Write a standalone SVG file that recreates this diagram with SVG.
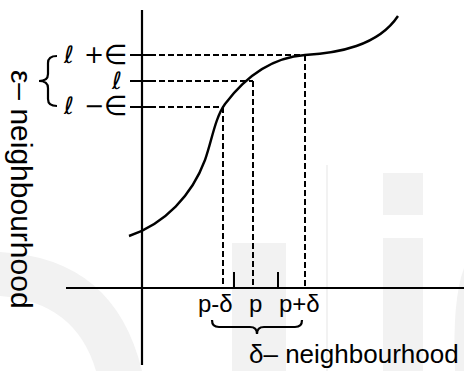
<svg xmlns="http://www.w3.org/2000/svg" width="464" height="371" viewBox="0 0 464 371">
<style>
.wm{fill:#f2f2f2;stroke:none}
.ax{stroke:#000;stroke-width:2.2;fill:none}
.tk{stroke:#000;stroke-width:2;fill:none}
.ds{stroke:#000;stroke-width:2;fill:none;stroke-dasharray:6 3}
.cv{stroke:#000;stroke-width:2.4;fill:none}
.br{stroke:#000;stroke-width:2.2;fill:none}
.lb{font-family:"Liberation Sans",Arial,sans-serif;fill:#000}
.mt{font-family:"DejaVu Sans",sans-serif;fill:#000;font-size:24px}
.el{font-size:27px}
</style>
<rect width="464" height="371" fill="#fff"/>
<g id="watermark">
<path class="wm" d="M0,252 Q115,258 142,371 L96,371 Q76,302 0,296 Z"/>
<rect class="wm" x="232" y="243" width="54" height="128"/>
<rect class="wm" x="326" y="165" width="2" height="206"/>
<rect class="wm" x="383" y="173" width="40" height="42"/>
<rect class="wm" x="383" y="238" width="40" height="133"/>
<path class="wm" d="M464,268 Q452,300 455,371 L464,371 Z"/>
</g>
<g id="axes">
<line class="ax" x1="142" y1="10" x2="142" y2="365"/>
<line class="ax" x1="66" y1="288" x2="464" y2="288"/>
</g>
<g id="curve">
<path class="cv" d="M129,236 C165,224 192,195 205,160 C212,140 215,118 225,104 C240,84 266,58 305,55 C338,53 378,46 398,16"/>
</g>
<g id="connectors">
<line class="tk" x1="130" y1="55" x2="150" y2="55"/>
<line class="tk" x1="130" y1="81" x2="150" y2="81"/>
<line class="tk" x1="130" y1="107" x2="150" y2="107"/>
<line class="ds" x1="150" y1="55" x2="305" y2="55"/>
<line class="ds" x1="150" y1="81" x2="253" y2="81"/>
<line class="ds" x1="150" y1="107" x2="223" y2="107"/>
<line class="ds" x1="223" y1="107" x2="223" y2="288"/>
<line class="ds" x1="253" y1="81" x2="253" y2="288"/>
<line class="ds" x1="305" y1="55" x2="305" y2="288"/>
<line class="tk" x1="234" y1="272" x2="234" y2="288"/>
<line class="tk" x1="278" y1="272" x2="278" y2="288"/>
</g>
<g id="eps-labels">
<path class="br" d="M57,56 Q48,56 48,63 L48,74 Q48,81 39,81 Q48,81 48,88 L48,99 Q48,106 57,106"/>
<text class="mt" y="63"><tspan x="64">ℓ</tspan><tspan x="84">+</tspan><tspan x="104" class="el" y="64">∈</tspan></text>
<text class="mt" x="112" y="89">ℓ</text>
<text class="mt" y="114"><tspan x="64">ℓ</tspan><tspan x="84">−</tspan><tspan x="104" class="el" y="115">∈</tspan></text>
<text class="lb" font-size="30" transform="translate(11,70) rotate(90)">ε– neighbourhood</text>
</g>
<g id="delta-labels">
<text class="lb" font-size="24" x="198" y="312">p-δ</text>
<text class="lb" font-size="24" x="249" y="312">p</text>
<text class="lb" font-size="24" x="279" y="312">p+δ</text>
<path class="br" d="M212,320 Q212,327 219,327 L250,327 Q257,327 257,334 Q257,327 264,327 L295,327 Q302,327 302,320"/>
<text class="lb" font-size="26" x="249" y="363">δ– neighbourhood</text>
</g>
</svg>
